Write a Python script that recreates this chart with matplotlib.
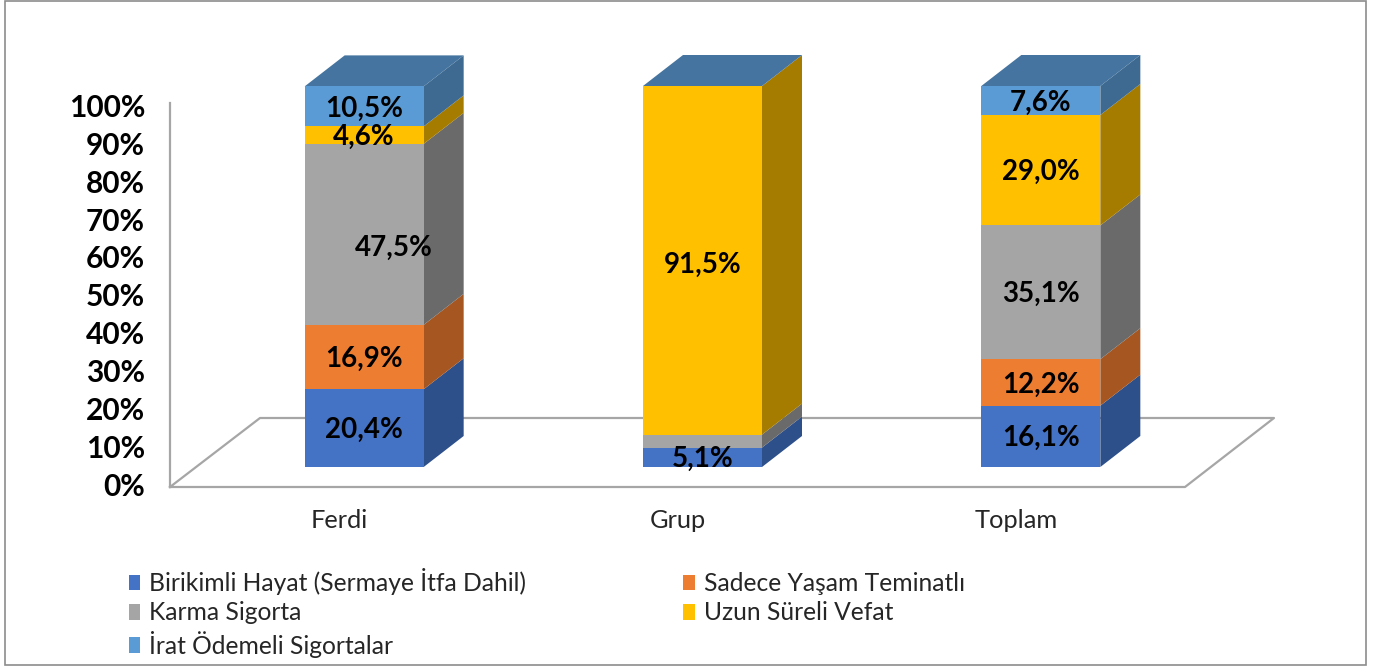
# -*- coding: utf-8 -*-
import matplotlib
matplotlib.use("Agg")
import matplotlib.pyplot as plt
from matplotlib.lines import Line2D
from matplotlib.patches import Patch, Polygon, Rectangle
import numpy as np

W, H = 1384, 668
plt.rcParams["font.family"] = ["Lato", "DejaVu Sans"]

categories = ["Ferdi", "Grup", "Toplam"]
birikimli = [20.4, 5.1, 16.1]
sadece    = [16.9, 0.0, 12.2]
karma     = [47.5, 3.4, 35.1]
uzun      = [4.6, 91.5, 29.0]
irat      = [10.5, 0.0, 7.6]
series_names = ["Birikimli Hayat (Sermaye İtfa Dahil)", "Sadece Yaşam Teminatlı",
                "Karma Sigorta", "Uzun Süreli Vefat", "İrat Ödemeli Sigortalar"]
y_ticks = [0, 10, 20, 30, 40, 50, 60, 70, 80, 90, 100]

FRONT = ["#4472C4", "#ED7D31", "#A5A5A5", "#FFC000", "#5B9BD5"]
SIDE  = ["#2D4F8A", "#A65721", "#6A6A6A", "#A67C00", "#3E6A91"]
TOP   = "#44749F"
LINE  = "#A6A6A6"

# plot box in pixels: categories span 170..1185, 0-100 spans 467..86, floor edge at 487
left, right, y0_px, y100_px, floor_px = 170, 1185, 467, 86, 487
px_x = (right - left) / 3
px_y = (y0_px - y100_px) / 100

fig = plt.figure(figsize=(W / 100, H / 100), dpi=100, facecolor="white")
ax = fig.add_axes([left / W, 1 - floor_px / H, (right - left) / W, (floor_px - y100_px) / H])
ax.patch.set_visible(False)
for s in ax.spines.values():
    s.set_visible(False)

def dx(p):
    return p / px_x

def dy(p):
    return p / px_y

# floor and wall
fl = -dy(floor_px - y0_px)
ax.add_line(Line2D([-0.5, -0.5], [fl, dy(y0_px - 103)], color=LINE, lw=1.6, clip_on=False, zorder=1))
ax.add_line(Line2D([-0.5, 2.5, 2.5 + dx(89), -0.5 + dx(90), -0.5],
                   [fl, fl, fl + dy(69), fl + dy(69), fl],
                   color=LINE, lw=1.6, clip_on=False, zorder=1))

bar_w = 119 / px_x
shift = dx(25)   # bars stand toward the back of the floor, right of the category centre
xpos = np.arange(3) + shift
depth_x, depth_y = dx(40), dy(31)
series = [birikimli, sadece, karma, uzun, irat]
label_shift = {(0, 2): (30, -11), (1, 3): (0, -3)}   # these sit off-centre in the source
hidden = {(1, 2)}                   # grey Grup segment carries no label

bottom = np.zeros(3)
for k, vals in enumerate(series):
    vals = np.array(vals)
    ax.bar(xpos, vals, bar_w, bottom=bottom, color=FRONT[k], zorder=3, clip_on=False)
    for i, v in enumerate(vals):
        if v == 0:
            continue
        xr = xpos[i] + bar_w / 2
        b = bottom[i]
        ax.add_patch(Polygon([(xr, b), (xr + depth_x, b + depth_y),
                              (xr + depth_x, b + v + depth_y), (xr, b + v)],
                             closed=True, fc=SIDE[k], ec="none", zorder=2, clip_on=False))
        if (i, k) not in hidden:
            sx, sy = label_shift.get((i, k), (0, 0))
            ax.text(xpos[i] + dx(sx), b + v / 2 - dy(2) + dy(sy), f"{v:.1f}%".replace(".", ","),
                    ha="center", va="center", fontsize=20, fontweight="bold",
                    color="black", zorder=5, clip_on=False)
    bottom = bottom + vals

for i in range(3):
    xl, xr = xpos[i] - bar_w / 2, xpos[i] + bar_w / 2
    t = bottom[i]
    ax.add_patch(Polygon([(xl, t), (xl + depth_x, t + depth_y), (xr + depth_x, t + depth_y), (xr, t)],
                         closed=True, fc=TOP, ec="none", zorder=2, clip_on=False))

# axis labels sit on the floor's scale (483..105 px), not the bars'
ax.set_yticks([(y0_px - (484 - v * 3.785)) / px_y for v in y_ticks])
ax.set_yticklabels([f"{v}%" for v in y_ticks], fontsize=21.5, fontweight="bold", color="black")
ax.set_xticks(range(3))
ax.set_xticklabels(categories, fontsize=18.3, color="#262626")
ax.tick_params(axis="y", length=0, pad=18)
ax.tick_params(axis="x", length=0, pad=15.8)
ax.set_xlim(-0.5, 2.5)
ax.set_ylim(fl, 100)

# legend fills by column, so reorder to get the reference's rows
order = [0, 2, 4, 1, 3]
handles = [Patch(fc=FRONT[k], ec="none", label=series_names[k]) for k in order]
fig.legend(handles=handles, loc="upper left", bbox_to_anchor=(129 / W, 1 - 568 / H), ncol=2,
           frameon=False, fontsize=17.7, labelcolor="#262626", handlelength=0.45, handleheight=0.6,
           handletextpad=0.37, labelspacing=0.26, columnspacing=6.4, borderpad=0, borderaxespad=0)

fig.add_artist(Rectangle((4.5 / W, 1 - 665 / H), (1366 - 4.5) / W, 664 / H, transform=fig.transFigure,
                         fc="none", ec="#8C8C8C", lw=1.2))

fig.savefig("out.png", dpi=100)
